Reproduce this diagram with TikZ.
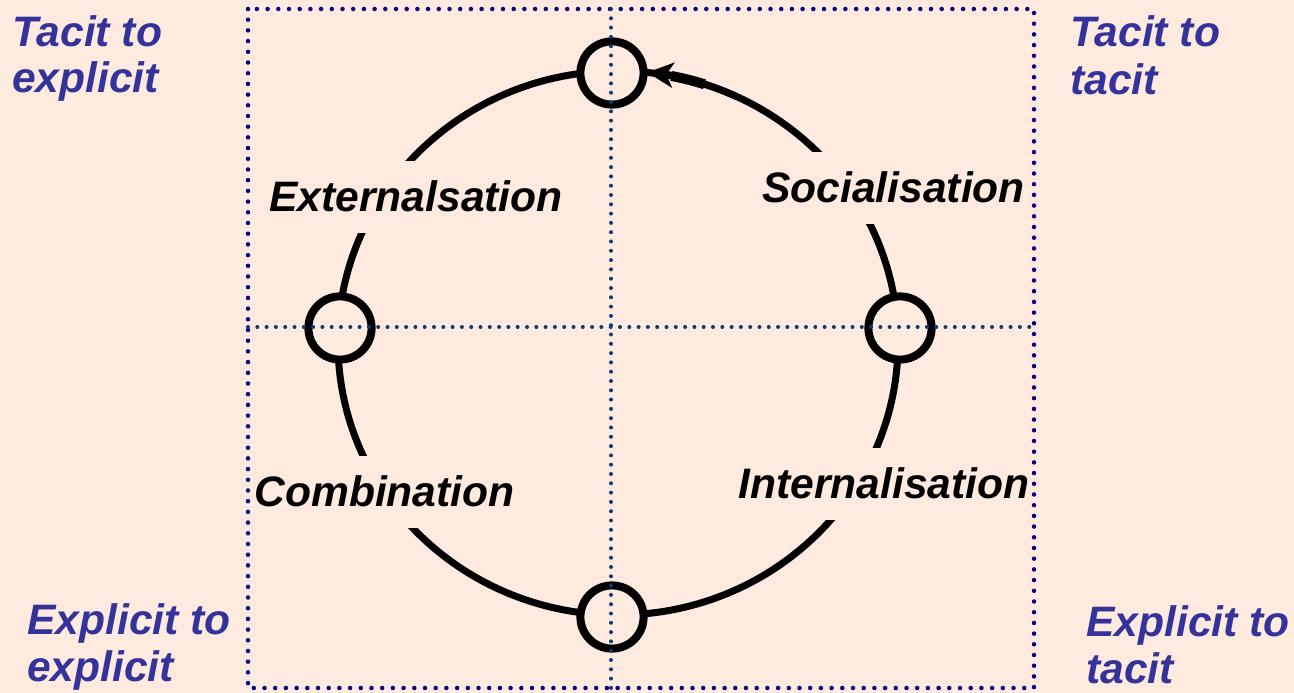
\documentclass[tikz,border=0pt]{standalone}
\usepackage{fontspec}
\setmainfont{Liberation Sans}
\usetikzlibrary{arrows.meta}
\definecolor{bg}{HTML}{FFEAE0}
\definecolor{navy}{HTML}{000080}
\definecolor{innerblue}{HTML}{0A3C78}
\definecolor{lbl}{HTML}{333399}
\begin{document}
\begin{tikzpicture}[x=1pt,y=1pt,
  corner/.style={anchor=base west, inner sep=0pt, font=\fontsize{42.6}{47}\selectfont\bfseries\itshape, text=lbl},
  proc/.style={anchor=base, inner xsep=0pt, inner ysep=12.5pt, text height=38pt, text depth=9pt, fill=bg, font=\fontsize{42.6}{47}\selectfont\bfseries\itshape, text=black},
  hub/.style={circle, draw=black, line width=8pt, fill=bg, minimum size=63.2pt, inner sep=0pt},
  outerdots/.style={navy, line width=4.5pt, line cap=round, dash pattern=on 0pt off 10.7pt},
  innerdots/.style={innerblue, line width=4pt, line cap=round, dash pattern=on 0pt off 9.3pt}]
\fill[bg] (0,0) rectangle (1294,693);
\useasboundingbox (0,0) rectangle (1294,693);

\coordinate (c) at (618,350);
\draw[line width=7pt] (c) ellipse [x radius=280, y radius=272];

\node[hub] (top) at (612,620) {};
\node[hub] (bottom) at (612,76) {};
\node[hub] (left) at (340,365) {};
\node[hub] (right) at (900,365) {};

\draw[line width=10pt] ([shift={(72:280 and 272)}]c) arc[start angle=72,end angle=79,x radius=280,y radius=272];
\draw[line width=7pt, -{Stealth[length=26pt,width=25pt,inset=7pt]}] ([shift={(65:280 and 272)}]c) arc[start angle=65,end angle=84,x radius=280,y radius=272];

\node[proc] (ext) at (416,481) {Externalsation};
\node[proc] (soc) at (893.5,490) {Socialisation};
\node[proc] (com) at (384.5,186) {Combination};
\node[proc] (int) at (884,194) {Internalisation};

\node[corner] (tl1) at (12,646) {Tacit to};
\node[corner] (tl2) at (12,600) {explicit};
\node[corner] (tr1) at (1070,646) {Tacit to};
\node[corner] (tr2) at (1070,598) {tacit};
\node[corner] (bl1) at (27,58) {Explicit to};
\node[corner] (bl2) at (27,11) {explicit};
\node[corner] (br1) at (1086,56) {Explicit to};
\node[corner] (br2) at (1086,9) {tacit};

\coordinate (rtl) at (248,684);
\coordinate (rbr) at (1034,5);
\coordinate (vt) at (611,684);
\coordinate (vb) at (611,5);
\coordinate (hl) at (248,366);
\coordinate (hr) at (1034,366);
\draw[outerdots] (rtl) rectangle (rbr);
\draw[innerdots] (vt) -- (vb);
\draw[innerdots] (hl) -- (hr);
\end{tikzpicture}
\end{document}
